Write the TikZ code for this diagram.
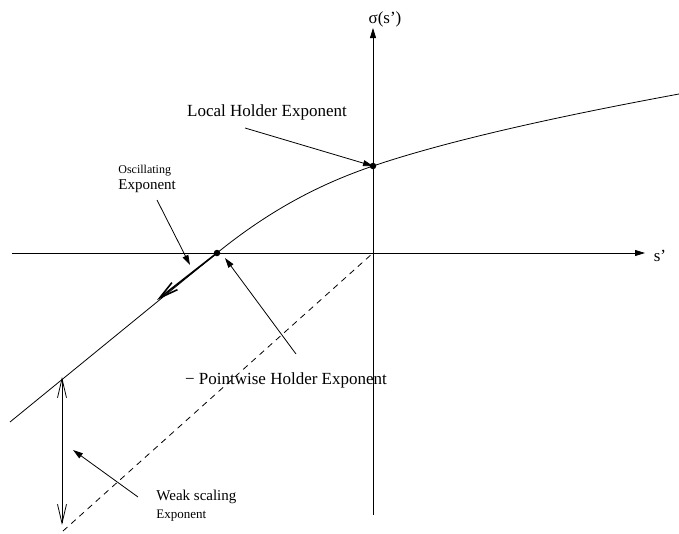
\documentclass[tikz,border=0pt]{standalone}
\usepackage{fontspec}
\setmainfont{Liberation Serif}
\usetikzlibrary{arrows.meta,positioning}

\begin{document}
\begin{tikzpicture}[x=1pt,y=-1pt,line width=0.8pt,
big/.style={font=\fontsize{17}{19}\selectfont},
pointer/.style={-{Triangle[length=10pt,width=6pt]}},
barbhead/.style={-{Straight Barb[length=19pt,width=9pt]}},
dot/.style={circle,fill,inner sep=0pt,minimum size=6.5pt}]
\useasboundingbox (0,0) rectangle (679,533);
% axes
\coordinate (o) at (373,253);
\coordinate (xl) at (12,253);
\coordinate (xr) at (645,253);
\coordinate (yb) at (373,515);
\coordinate (yt) at (373,28);
\path[pointer]
(xl) edge (xr)
(yb) edge (yt);
\node[big] (sx) at (660,256) {s’};
\node[big] (sy) at (385,19) {σ(s’)};
% curve
\coordinate (c0) at (10,422);
\node[dot] (pw) at (217,253) {};
\node[dot] (lh) at (373,166) {};
\coordinate (c1) at (679,94);
\draw (c0) -- (pw.center) .. controls (270,210) and (320,184) .. (lh.center)
  .. controls (450,140) and (560,116) .. (c1);
\coordinate (d0) at (63,531);
\draw[dashed,dash pattern=on 6pt off 5pt] (d0) -- (o);
% labels
\node[big] (local) at (267,112) {Local Holder Exponent};
\node[anchor=north west,inner sep=0pt,font=\fontsize{12}{13}\selectfont] (osc) at (118,165) {Oscillating};
\node[anchor=north west,inner sep=0pt,font=\fontsize{15}{16}\selectfont] (oscexp) at (118,179) {Exponent};
\node[big] (point) at (286,380) {− Pointwise Holder Exponent};
\node[anchor=north west,inner sep=0pt,font=\fontsize{15}{16}\selectfont] (weak) at (156,490) {Weak scaling};
\node[anchor=north west,inner sep=0pt,font=\fontsize{13}{14}\selectfont] (weakexp) at (156,510) {Exponent};
% pointers
\coordinate (a1) at (245,128);
\coordinate (a2) at (157,200);
\coordinate (a3) at (190,265);
\coordinate (a4) at (296,354);
\coordinate (a5) at (225,258);
\coordinate (a6) at (138,497);
\coordinate (a7) at (73,450);
\path[pointer]
(a1) edge (lh.center)
(a2) edge (a3)
(a4) edge (a5)
(a6) edge (a7);
% oscillating and scaling
\coordinate (ot) at (157,300);
\coordinate (wt) at (62,377);
\coordinate (wb) at (62,525);
\draw[barbhead,line width=1.6pt] (pw.center) -- (ot);
\draw[{Straight Barb[length=19pt,width=9pt]}-{Straight Barb[length=19pt,width=9pt]}] (wt) -- (wb);
\end{tikzpicture}
\end{document}
